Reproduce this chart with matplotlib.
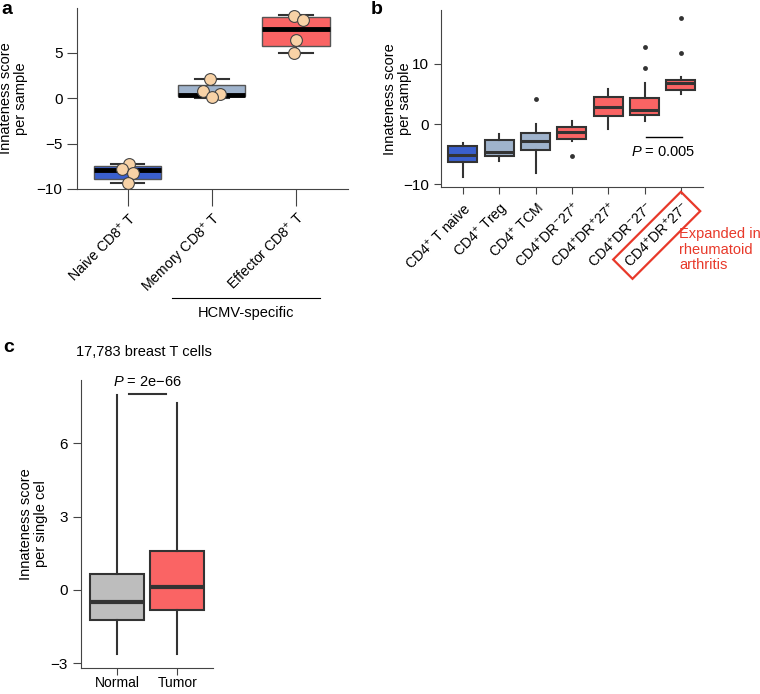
import matplotlib
matplotlib.use("Agg")
import matplotlib.pyplot as plt

plt.rcParams['font.family'] = ['Liberation Sans', 'DejaVu Sans']
plt.rcParams['mathtext.fontset'] = 'custom'
plt.rcParams['mathtext.rm'] = 'Liberation Sans'
plt.rcParams['mathtext.it'] = 'Liberation Sans:italic'
plt.rcParams['mathtext.bf'] = 'Liberation Sans:bold'
plt.rcParams['font.size'] = 10.5

# ---- panel a: CD8 T cells ----
a_labels = ['Naive CD8$^{+}$ T', 'Memory CD8$^{+}$ T', 'Effector CD8$^{+}$ T']
a_q1 = [-8.85, 0.22, 5.68]
a_med = [-7.95, 0.32, 7.55]
a_q3 = [-7.47, 1.47, 8.87]
a_lo = [-9.3, 0.05, 5.0]
a_hi = [-7.2, 2.05, 9.1]
a_points = [[-7.2, -7.8, -8.2, -9.3], [2.1, 0.75, 0.45, 0.1], [9.0, 8.6, 6.4, 5.0]]
a_jitter = [[0.02, -0.06, 0.06, 0.01], [-0.02, -0.1, 0.1, 0.0], [-0.02, 0.09, 0.0, -0.02]]

# ---- panel b: CD4 T cells ----
b_labels = ['CD4$^{+}$ T naive', 'CD4$^{+}$ Treg', 'CD4$^{+}$ TCM',
            'CD4$^{+}$DR$^{-}$27$^{+}$', 'CD4$^{+}$DR$^{+}$27$^{+}$',
            'CD4$^{+}$DR$^{-}$27$^{-}$', 'CD4$^{+}$DR$^{+}$27$^{-}$']
b_q1 = [-6.3, -5.4, -4.4, -2.5, 1.4, 1.5, 5.7]
b_med = [-5.1, -4.6, -2.8, -1.3, 2.8, 2.3, 6.9]
b_q3 = [-3.7, -2.7, -1.5, -0.5, 4.5, 4.4, 7.4]
b_lo = [-8.9, -6.1, -8.2, -2.8, -0.8, 0.45, 5.05]
b_hi = [-3.2, -1.7, 0.05, 0.55, 5.8, 6.8, 7.8]
b_fliers = [[], [], [4.1], [-5.4], [], [9.3, 12.8], [11.8, 17.7]]

# ---- panel c: breast single cells ----
c_labels = ['Normal', 'Tumor']
c_q1 = [-1.22, -0.83]
c_med = [-0.51, 0.13]
c_q3 = [0.66, 1.59]
c_lo = [-2.63, -2.63]
c_hi = [8.0, 7.66]

BLUE = '#3a5fcd'
STEEL = '#9fb3cc'
RED = '#fa6464'
GRAY = '#bdbdbd'
EDGE = '#333333'
ANNOT_RED = '#e8392a'
YTICK_FS = 11
XTICK_FS = 10.2
LABEL_FS = 10.5


def draw_boxes(ax, q1, med, q3, lo, hi, fliers, colors, width,
               caps=False, medlw=2.0, lw=1.5, edge=EDGE):
    stats = []
    for i in range(len(q1)):
        stats.append(dict(q1=q1[i], med=med[i], q3=q3[i], whislo=lo[i],
                          whishi=hi[i], fliers=fliers[i] if fliers else []))
    bp = ax.bxp(stats, positions=range(len(q1)), widths=width,
                patch_artist=True, showcaps=caps, capwidths=0.4,
                boxprops=dict(edgecolor=edge, linewidth=lw),
                whiskerprops=dict(color=EDGE, linewidth=1.5),
                capprops=dict(color=EDGE, linewidth=1.5),
                medianprops=dict(color=EDGE if edge == EDGE else 'black', linewidth=medlw,
                                 solid_capstyle='butt'),
                flierprops=dict(marker='o', markersize=3.5, markerfacecolor=EDGE,
                                markeredgecolor='none', linestyle='none'))
    for patch, c in zip(bp['boxes'], colors):
        patch.set_facecolor(c)
    return bp


def style(ax):
    ax.spines['top'].set_visible(False)
    ax.spines['right'].set_visible(False)
    ax.spines['left'].set_color('#444444')
    ax.spines['bottom'].set_color('#444444')
    ax.tick_params(colors='#444444', labelcolor='black')
    ax.tick_params(axis='y', labelsize=YTICK_FS)
    ax.tick_params(axis='x', labelsize=XTICK_FS)


fig = plt.figure(figsize=(7.6, 6.94), dpi=100)

# panel a
ax1 = fig.add_axes([0.1013, 0.7277, 0.3567, 0.2608])
draw_boxes(ax1, a_q1, a_med, a_q3, a_lo, a_hi, None, [BLUE, STEEL, RED], 0.8,
           caps=True, medlw=3.5, lw=1.0, edge='#555555')
for i, pts in enumerate(a_points):
    xs = [i + j for j in a_jitter[i]]
    ax1.plot(xs, pts, 'o', markersize=8.5, markerfacecolor='#f8d2a6',
             markeredgecolor='#444444', markeredgewidth=0.8, zorder=5)
ax1.set_xlim(-0.6, 2.62)
ax1.set_ylim(-10, 9.9)
ax1.set_yticks([-10, -5, 0, 5])
ax1.set_yticklabels(['\u221210', '\u22125', '0', '5'])
ax1.set_xticks(range(3))
ax1.set_xticklabels(a_labels, rotation=45, ha='right', rotation_mode='anchor')
ax1.tick_params(axis='x', length=12, pad=3)
ax1.tick_params(axis='y', length=7)
style(ax1)
ax1.set_ylabel('Innateness score\nper sample', fontsize=LABEL_FS, linespacing=1.1)
ax1.yaxis.set_label_coords(-0.18, 0.5)
tr = ax1.get_xaxis_transform()
ax1.plot([0.524, 2.286], [-0.602, -0.602], color='black', lw=0.8,
         transform=tr, clip_on=False)
ax1.text(1.405, -0.685, 'HCMV-specific', transform=tr, ha='center', va='center',
         fontsize=LABEL_FS)
fig.text(0.002, 0.986, 'a', fontsize=14, fontweight='bold', va='center')

# panel b
ax2 = fig.add_axes([0.5803, 0.7301, 0.3443, 0.2555])
draw_boxes(ax2, b_q1, b_med, b_q3, b_lo, b_hi, b_fliers,
           [BLUE, STEEL, STEEL, RED, RED, RED, RED], 0.8, medlw=2.2)
ax2.set_xlim(-0.6, 6.6)
ax2.set_ylim(-10.55, 19)
ax2.set_yticks([-10, 0, 10])
ax2.set_yticklabels(['\u221210', '0', '10'])
ax2.set_xticks(range(7))
ax2.set_xticklabels(b_labels, rotation=45, ha='right', rotation_mode='anchor')
ax2.tick_params(axis='x', length=5, pad=4)
ax2.tick_params(axis='y', length=5)
style(ax2)
ax2.set_ylabel('Innateness score\nper sample', fontsize=LABEL_FS, linespacing=1.1)
ax2.yaxis.set_label_coords(-0.11, 0.5)
ax2.plot([5.04, 6.04], [-2.1, -2.1], color='black', lw=1.0)
ax2.text(5.52, -4.6, '$\\it{P}$ = 0.005', ha='center', va='center', fontsize=LABEL_FS)
lab = ax2.get_xticklabels()[6]
lab.set_bbox(dict(boxstyle='square,pad=0.4', facecolor='none',
                  edgecolor=ANNOT_RED, linewidth=1.6))
fig.text(679 / 760, 1 - 227 / 694, 'Expanded in\nrheumatoid\narthritis',
         color=ANNOT_RED, fontsize=LABEL_FS, va='top', ha='left', linespacing=1.15)
fig.text(0.488, 0.986, 'b', fontsize=14, fontweight='bold', va='center')

# panel c
ax3 = fig.add_axes([0.1066, 0.0375, 0.1741, 0.4149])
draw_boxes(ax3, c_q1, c_med, c_q3, c_lo, c_hi, None, [GRAY, RED], 0.9, medlw=3.0)
ax3.set_xlim(-0.6, 1.6)
ax3.set_ylim(-3.2, 8.6)
ax3.set_yticks([-3, 0, 3, 6])
ax3.set_yticklabels(['\u22123', '0', '3', '6'])
ax3.set_xticks(range(2))
ax3.set_xticklabels(c_labels)
ax3.tick_params(axis='x', length=5, pad=1)
ax3.tick_params(axis='y', length=6)
style(ax3)
ax3.tick_params(axis='x', labelsize=10)
ax3.set_ylabel('Innateness score\nper single cel', fontsize=LABEL_FS, linespacing=1.1)
ax3.yaxis.set_label_coords(-0.25, 0.5)
ax3.plot([0.2, 0.81], [8.03, 8.03], color=EDGE, lw=1.5, clip_on=False)
ax3.text(0.5, 8.5, '$\\it{P}$ = 2e\u221266', ha='center', va='center',
         fontsize=LABEL_FS, clip_on=False)
fig.text(144 / 760, 1 - 352 / 694, '17,783 breast T cells', ha='center',
         va='center', fontsize=LABEL_FS)
fig.text(0.004, 1 - 347 / 694, 'c', fontsize=14, fontweight='bold', va='center')

fig.savefig('out.png', dpi=100)
